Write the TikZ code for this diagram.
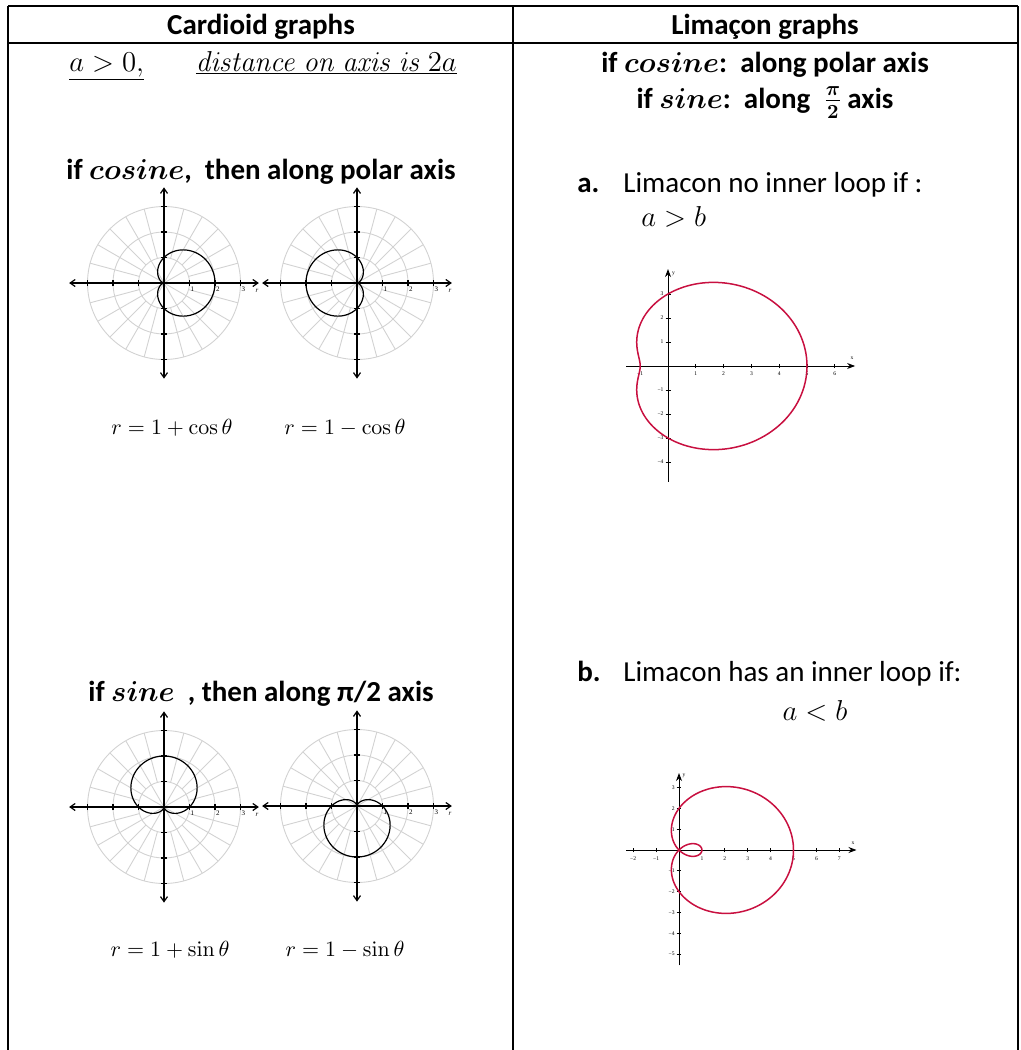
\documentclass[tikz,border=0pt]{standalone}
\usepackage[no-math]{fontspec}
\setmainfont{Carlito}
\newfontfamily\tickfont{Liberation Serif}
\usetikzlibrary{arrows.meta}
\definecolor{limred}{RGB}{200,16,64}
\definecolor{gridgray}{RGB}{210,210,210}

\newcommand{\polframe}[1]{%
  \foreach \r in {1,2,3} \draw[gridline] (0,0) circle (\r);
  \foreach \a in {0,30,...,330} \draw[gridline] (0,0) -- (\a:3);
  \foreach \a in {15,45,...,345} \draw[gridline] (\a:1) -- (\a:3);
  \draw[paxis] (-3.72,0) -- (3.72,0);
  \draw[paxis] (0,-3.75) -- (0,3.75);
  \foreach \t in {-3,-2,-1,1,2,3} {
    \draw[cardio] (\t,-0.12) -- (\t,0.12);
    \draw[cardio] (-0.12,\t) -- (0.12,\t);
  }
  \foreach \t in {1,2,3} \node[ticklbl, anchor=north west] (#1x\t) at (\t,-0.1) {\t};
  \node[ticklbl] (#1r) at (3.65,-0.3) {\textit{r}};
}

\begin{document}
\begin{tikzpicture}[
x=0.5pt, y=0.5pt,
every node/.style={font=\fontsize{14.5}{17}\selectfont, inner sep=0pt},
hdr/.style={font=\fontsize{14.5}{17}\selectfont\bfseries},
eqlbl/.style={font=\fontsize{11}{13}\selectfont},
tablerule/.style={line width=1pt},
gridline/.style={draw=gridgray, line width=0.45pt},
paxis/.style={{Straight Barb[length=2.5pt,width=3.5pt]}-{Straight Barb[length=2.5pt,width=3.5pt]}, line width=0.6pt},
cardio/.style={line width=0.6pt},
laxis/.style={-{Stealth[length=4pt,width=3pt]}, line width=0.45pt},
limcurve/.style={draw=limred, line width=0.75pt},
ticklbl/.style={font=\tickfont\fontsize{3.5}{4}\selectfont, inner sep=0.4pt},
limlbl/.style={font=\tickfont\fontsize{2.8}{3}\selectfont, inner sep=0.4pt}
]

\useasboundingbox (0,0) rectangle (1021,-1050);

\draw[tablerule] (8,-6) -- (1018,-6);
\draw[tablerule] (8,-43) -- (1018,-43);
\draw[tablerule] (8,-6) -- (8,-1050);
\draw[tablerule] (513,-6) -- (513,-1050);
\draw[tablerule] (1018,-6) -- (1018,-1050);

\node[hdr, anchor=base] (hcard) at (261,-34) {Cardioid graphs};
\node[hdr, anchor=base] (hlim) at (765,-34) {Limaçon graphs};

\node[anchor=base] (cond) at (263,-71)
{$\underline{a>0,}$\hspace{26pt}$\underline{\mathit{distance\ on\ axis\ is\ }2a}$};

\node[hdr, anchor=base] (cosl) at (261,-179)
{if {\boldmath$cosine$},\ \ then along polar axis};

\begin{scope}[shift={(164,-283)}, x=12.75pt, y=12.75pt]
\polframe{pa}
\draw[cardio] plot[domain=0:360, samples=145, smooth] (\x:{1+cos(\x)});
\end{scope}

\begin{scope}[shift={(357,-283)}, x=12.75pt, y=12.75pt]
\polframe{pb}
\draw[cardio] plot[domain=0:360, samples=145, smooth] (\x:{1-cos(\x)});
\end{scope}

\node[eqlbl, anchor=base] (eqa) at (172,-434) {$r=1+\cos\theta$};
\node[eqlbl, anchor=base] (eqb) at (345,-434) {$r=1-\cos\theta$};

\node[hdr, anchor=base] (sinl) at (261,-701)
{if {\boldmath$sine$}\ \ , then along π/2 axis};

\begin{scope}[shift={(164,-807)}, x=12.75pt, y=12.75pt]
\polframe{pc}
\draw[cardio] plot[domain=0:360, samples=145, smooth] (\x:{1+sin(\x)});
\end{scope}

\begin{scope}[shift={(357,-806)}, x=12.75pt, y=12.75pt]
\polframe{pd}
\draw[cardio] plot[domain=0:360, samples=145, smooth] (\x:{1-sin(\x)});
\end{scope}

\node[eqlbl, anchor=base] (eqc) at (170,-956) {$r=1+\sin\theta$};
\node[eqlbl, anchor=base] (eqd) at (345,-956) {$r=1-\sin\theta$};

\node[hdr, anchor=base] (cosr) at (765,-72)
{if {\boldmath$cosine$}:\ \ along polar axis};
\node[hdr, anchor=base] (sinr) at (765,-108)
{if {\boldmath$sine$}:\ \ along\ \ {\boldmath$\frac{\pi}{2}$}\,axis};

\node[hdr, anchor=base west] (la) at (577,-192) {a.};
\node[anchor=base west] (lat) at (623,-192) {Limacon no inner loop if :};
\node[anchor=base west] (lac) at (641,-226) {$a>b$};

\begin{scope}[shift={(668,-366)}, x=13.9pt, y=12pt]
\draw[laxis] (-1.5,0) -- (6.73,0);
\draw[laxis] (0,-4.83) -- (0,4.04);
\foreach \t/\l in {-1/−1,1/1,2/2,3/3,4/4,5/5,6/6} {
  \draw[line width=0.45pt] (\t,-0.1) -- (\t,0.1);
  \node[limlbl, anchor=north] (qax\t) at (\t,-0.2) {\l};
}
\foreach \t/\l in {-4/−4,-3/−3,-2/−2,-1/−1,1/1,2/2,3/3} {
  \draw[line width=0.45pt] (-0.09,\t) -- (0.09,\t);
  \node[limlbl, anchor=east] (qay\t) at (-0.12,\t) {\l};
}
\node[limlbl] (qxl) at (6.62,0.33) {x};
\node[limlbl] (qyl) at (0.2,3.85) {y};
\draw[limcurve] plot[domain=0:360, samples=181, smooth]
  ({(3+2*cos(\x))*cos(\x)}, {(3+2*cos(\x))*sin(\x)});
\end{scope}

\node[hdr, anchor=base west] (lb) at (577,-681) {b.};
\node[anchor=base west] (lbt) at (623,-681) {Limacon has an inner loop if:};
\node[anchor=base] (lbc) at (815,-720) {$a<b$};

\begin{scope}[shift={(679,-850)}, x=11.45pt, y=10.4pt]
\draw[laxis] (-2.3,0) -- (7.75,0);
\draw[laxis] (0,-5.55) -- (0,3.7);
\foreach \t/\l in {-2/−2,-1/−1,1/1,2/2,3/3,4/4,5/5,6/6,7/7} {
  \draw[line width=0.45pt] (\t,-0.11) -- (\t,0.11);
  \node[limlbl, anchor=north] (qbx\t) at (\t,-0.25) {\l};
}
\foreach \t/\l in {-5/−5,-4/−4,-3/−3,-2/−2,-1/−1,1/1,2/2,3/3} {
  \draw[line width=0.45pt] (-0.1,\t) -- (0.1,\t);
  \node[limlbl, anchor=east] (qby\t) at (-0.14,\t) {\l};
}
\node[limlbl] (qbxl) at (7.6,0.35) {x};
\node[limlbl] (qbyl) at (0.22,3.55) {y};
\draw[limcurve] plot[domain=0:360, samples=241, smooth]
  ({(2+3*cos(\x))*cos(\x)}, {(2+3*cos(\x))*sin(\x)});
\end{scope}

\end{tikzpicture}
\end{document}
